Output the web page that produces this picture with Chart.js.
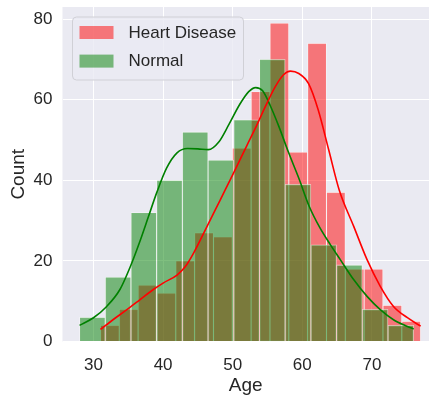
<!DOCTYPE html>
<html>
<head>
<meta charset="utf-8">
<script src="https://cdn.jsdelivr.net/npm/chart.js@4/dist/chart.umd.min.js"></script>
<style>
html,body{margin:0;padding:0;background:#ffffff;overflow:hidden}
canvas{display:block}
</style>
</head>
<body>
<canvas id="c" width="429" height="403"></canvas>
<script>
// ---------- data ----------
const seriesNames = ['Heart Disease', 'Normal'];
// histogram bin centres (age)
const heartBinCenters = [32.353, 35.059, 37.765, 40.471, 43.176, 45.882, 48.588, 51.294, 54.000, 56.706, 59.412, 62.118, 64.824, 67.529, 70.235, 72.941, 75.647];
const normalBinCenters = [29.846, 33.538, 37.231, 40.923, 44.615, 48.308, 52.000, 55.692, 59.385, 63.077, 66.769, 70.462, 74.154];
// histogram counts
const heartCounts = [4, 8, 14, 12, 20, 27, 26, 48, 62, 79, 47, 74, 37, 18, 18, 9, 5];
const normalCounts = [6, 16, 32, 40, 52, 45, 55, 70, 39, 24, 19, 8, 4];
// KDE curves (age, count)
const heartKdeAge = [31.0, 32.8, 34.8, 36.7, 38.6, 40.0, 42.0, 43.2, 44.4, 46.3, 48.2, 50.1, 52.0, 53.5, 54.5, 56.1, 57.3, 58.3, 59.5, 60.9, 62.3, 63.8, 65.3, 67.4, 69.3, 71.2, 73.1, 75.1, 77.0];
const heartKdeCount = [3.0, 5.4, 7.9, 10.4, 12.9, 14.5, 16.5, 18.6, 22.0, 28.5, 35.1, 41.7, 48.5, 53.8, 57.6, 63.2, 66.2, 67.1, 66.5, 64.0, 57.4, 47.5, 37.6, 28.5, 20.3, 13.7, 8.7, 5.9, 3.8];
const normalKdeAge = [28.0, 30.0, 31.9, 33.8, 35.3, 36.7, 37.9, 39.1, 40.5, 42.0, 43.5, 45.0, 46.5, 48.0, 49.5, 51.0, 52.3, 53.3, 54.3, 55.4, 56.6, 58.0, 59.5, 61.0, 62.5, 64.0, 65.5, 67.4, 69.3, 71.2, 73.1, 75.0, 76.0];
const normalKdeCount = [4.0, 5.9, 8.7, 12.9, 18.6, 25.0, 31.0, 37.0, 43.0, 46.8, 47.9, 47.8, 47.6, 49.5, 54.0, 58.8, 62.0, 63.0, 62.2, 58.5, 53.5, 47.0, 40.5, 33.5, 28.3, 24.1, 20.2, 15.3, 11.2, 7.9, 5.4, 3.8, 3.1];
// axes
const xTickValues = [30, 40, 50, 60, 70];
const yTickValues = [0, 20, 40, 60, 80];
const xRange = [25.55, 78.2];
const yRange = [0, 83];

// ---------- styling ----------
const FONT = '"Liberation Sans", Arial, Helvetica, sans-serif';
const TEXT = '#262626';
const RED_FILL = 'rgba(255,0,0,0.5)';
const GREEN_FILL = 'rgba(0,128,0,0.5)';

const zip = (xs, ys) => xs.map((x, i) => ({x: x, y: ys[i]}));
const noPad = s => { s.paddingTop = 0; s.paddingBottom = 0; s.paddingLeft = 0; s.paddingRight = 0; };

const bgPlugin = {
  id: 'axesBg',
  beforeDraw(chart) {
    const a = chart.chartArea, ctx = chart.ctx;
    ctx.save();
    ctx.fillStyle = '#EAEAF2';
    ctx.fillRect(a.left, a.top, a.right - a.left, a.bottom - a.top);
    ctx.restore();
  }
};

const legendPlugin = {
  id: 'boxLegend',
  afterDraw(chart) {
    const ctx = chart.ctx, a = chart.chartArea;
    const x0 = a.left + 10, y0 = a.top + 10, w = 171, h = 63, r = 4;
    ctx.save();
    ctx.beginPath();
    ctx.moveTo(x0 + r, y0);
    ctx.lineTo(x0 + w - r, y0);
    ctx.quadraticCurveTo(x0 + w, y0, x0 + w, y0 + r);
    ctx.lineTo(x0 + w, y0 + h - r);
    ctx.quadraticCurveTo(x0 + w, y0 + h, x0 + w - r, y0 + h);
    ctx.lineTo(x0 + r, y0 + h);
    ctx.quadraticCurveTo(x0, y0 + h, x0, y0 + h - r);
    ctx.lineTo(x0, y0 + r);
    ctx.quadraticCurveTo(x0, y0, x0 + r, y0);
    ctx.closePath();
    ctx.fillStyle = 'rgba(234,234,242,0.8)';
    ctx.fill();
    ctx.strokeStyle = '#d0d0d6';
    ctx.lineWidth = 1;
    ctx.stroke();
    const items = chart.data.datasets.filter(d => d.type === 'bar');
    ctx.font = '17px ' + FONT;
    ctx.textBaseline = 'middle';
    ctx.textAlign = 'left';
    items.forEach((d, i) => {
      const py = y0 + 9 + i * 28.6;
      ctx.fillStyle = d.backgroundColor;
      ctx.fillRect(x0 + 7, py, 34, 13);
      ctx.fillStyle = TEXT;
      ctx.fillText(d.label, x0 + 56, py + 7);
    });
    ctx.restore();
  }
};

new Chart(document.getElementById('c'), {
  type: 'bar',
  data: {
    datasets: [
      {
        type: 'line', label: seriesNames[0] + ' KDE', data: zip(heartKdeAge, heartKdeCount),
        xAxisID: 'x', yAxisID: 'y', borderColor: '#ff0000', borderWidth: 1.6,
        pointRadius: 0, fill: false, cubicInterpolationMode: 'monotone', order: 0
      },
      {
        type: 'line', label: seriesNames[1] + ' KDE', data: zip(normalKdeAge, normalKdeCount),
        xAxisID: 'x', yAxisID: 'y', borderColor: '#008000', borderWidth: 1.6,
        pointRadius: 0, fill: false, cubicInterpolationMode: 'monotone', order: 0
      },
      {
        type: 'bar', label: seriesNames[0], data: zip(heartBinCenters, heartCounts),
        xAxisID: 'x2', yAxisID: 'y', backgroundColor: RED_FILL,
        borderColor: 'rgba(255,255,255,0.55)', borderWidth: 0.8, borderSkipped: 'start',
        barPercentage: 1, categoryPercentage: 1, grouped: false, order: 2
      },
      {
        type: 'bar', label: seriesNames[1], data: zip(normalBinCenters, normalCounts),
        xAxisID: 'x', yAxisID: 'y', backgroundColor: GREEN_FILL,
        borderColor: 'rgba(255,255,255,0.55)', borderWidth: 0.8, borderSkipped: 'start',
        barPercentage: 1, categoryPercentage: 1, grouped: false, order: 1
      }
    ]
  },
  options: {
    responsive: false,
    animation: false,
    devicePixelRatio: 1,
    layout: { padding: { top: 7, right: 0, bottom: 0, left: 0 } },
    plugins: { legend: { display: false }, tooltip: { enabled: false } },
    scales: {
      x: {
        type: 'linear', position: 'bottom', min: xRange[0], max: xRange[1], offset: false,
        grid: { color: '#ffffff', lineWidth: 1, drawTicks: false, offset: false },
        border: { display: false },
        ticks: { color: TEXT, font: { size: 17, family: FONT }, padding: 14, maxRotation: 0 },
        afterBuildTicks: s => { s.ticks = xTickValues.map(v => ({ value: v })); },
        afterFit: s => { s.height = 61.5; noPad(s); },
        title: { display: true, text: 'Age', color: TEXT, font: { size: 19, family: FONT }, padding: { top: 0, bottom: 6 } }
      },
      x2: {
        type: 'linear', position: 'bottom', min: xRange[0], max: xRange[1], offset: false, display: false,
        grid: { offset: false },
        afterBuildTicks: s => { s.ticks = xTickValues.map(v => ({ value: v })); },
        afterFit: s => { noPad(s); }
      },
      y: {
        type: 'linear', position: 'left', min: yRange[0], max: yRange[1],
        grid: { color: '#ffffff', lineWidth: 1, drawTicks: false },
        border: { display: false },
        ticks: { color: TEXT, font: { size: 17, family: FONT }, padding: 10 },
        afterBuildTicks: s => { s.ticks = yTickValues.map(v => ({ value: v })); },
        afterFit: s => { s.width = 62.5; noPad(s); },
        title: { display: true, text: 'Count', color: TEXT, font: { size: 19, family: FONT }, padding: { top: 7, bottom: 0 } }
      }
    }
  },
  plugins: [bgPlugin, legendPlugin]
});
</script>
</body>
</html>
